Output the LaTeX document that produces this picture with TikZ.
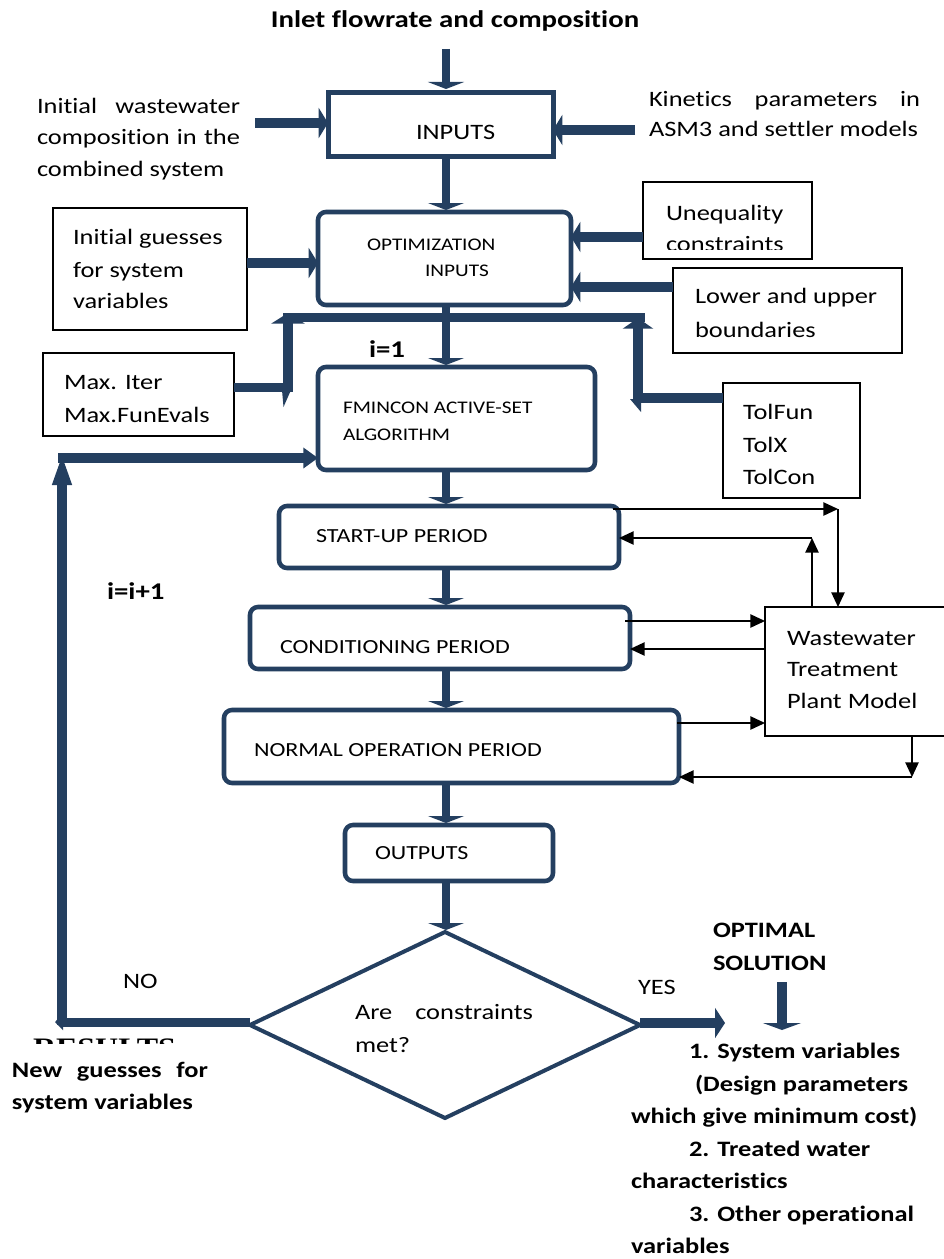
\documentclass[tikz,border=0pt]{standalone}
\usepackage{fontspec}
\setmainfont{Carlito}[FakeStretch=1.2,Ligatures=NoCommon]
\newfontfamily\serifres{Liberation Serif}[FakeStretch=1.2]
\usetikzlibrary{arrows.meta,shapes.geometric}
\newdimen\px
\px=0.75pt
\definecolor{navy}{RGB}{36,63,96}
\newcommand\fsTitle{\fontsize{18pt}{22pt}\selectfont\bfseries}
\newcommand\fsBody{\fontsize{16.5pt}{20pt}\selectfont}
\newcommand\fsLab{\fontsize{15pt}{18pt}\selectfont}
\newcommand\fsSmall{\fontsize{13.3pt}{16pt}\selectfont}
\newcommand\fsBold{\fontsize{16.5pt}{20pt}\selectfont\bfseries}
\newcommand\fsIdx{\fontsize{18pt}{22pt}\selectfont\bfseries}
\newcommand\fsRes{\serifres\fontsize{20pt}{24pt}\selectfont\bfseries}
\begin{document}
\begin{tikzpicture}[x=0.75pt,y=-0.75pt,
  bluebox/.style={draw=navy,line width=3.4pt,rounded corners=6pt,inner sep=0pt,outer sep=0pt},
  sharpbox/.style={draw=navy,line width=3.75pt,inner sep=0pt,outer sep=0pt},
  plainbox/.style={draw=black,line width=1pt,inner sep=0pt,outer sep=0pt},
  decision/.style={diamond,draw=navy,line width=3pt,inner sep=0pt,outer sep=0pt},
  lab/.style={anchor=base west,inner sep=0pt,outer sep=0pt},
  flow/.style={draw=navy,line width=6pt,shorten >=1.5pt,-{Triangle[width=27pt,length=5.25pt]}},
  fat/.style={draw=navy,line width=7.5pt,-{Triangle[width=22.5pt,length=7pt]}},
  fatline/.style={draw=navy,line width=7pt},
  thinarr/.style={draw=black,line width=1.1pt,-{Triangle[width=10pt,length=11pt]}}
]
\useasboundingbox (0,0) rectangle (944,1259);
\fill[white] (0,0) rectangle (944,1259);
\clip (0,0) rectangle (944,1259);

% ---------- boxes ----------
\node[sharpbox,minimum width=168.75pt,minimum height=48pt] (inputs) at (440.5,125) {};
\node[bluebox,minimum width=189.75pt,minimum height=69.75pt] (opt) at (444.5,258.5) {};
\node[bluebox,minimum width=207.75pt,minimum height=77.25pt] (fmin) at (456.5,418.5) {};
\node[bluebox,minimum width=255pt,minimum height=46.5pt] (startup) at (449,537) {};
\node[bluebox,minimum width=285pt,minimum height=46.5pt] (cond) at (440,638) {};
\node[bluebox,minimum width=341.25pt,minimum height=54.75pt] (normal) at (451.5,746.5) {};
\node[bluebox,minimum width=156pt,minimum height=42pt] (outputs) at (449,853) {};
\node[decision,minimum width=292.5pt,minimum height=139.5pt] (dia) at (445,1025) {};

\node[plainbox,minimum width=145.5pt,minimum height=91.5pt] (initg) at (150,269) {};
\node[plainbox,minimum width=126.75pt,minimum height=57.75pt] (uneq) at (727.5,220.5) {};
\node[plainbox,minimum width=171.75pt,minimum height=63.75pt] (lower) at (787.5,310.5) {};
\node[plainbox,minimum width=143.25pt,minimum height=62.25pt] (maxit) at (138.5,394.5) {};
\node[plainbox,minimum width=102.75pt,minimum height=86.25pt] (tolf) at (791.5,440.5) {};
\node[plainbox,minimum width=138.75pt,minimum height=96.75pt] (wwtp) at (857.5,671.5) {};

% ---------- main flow ----------
\coordinate (spine) at (446,0);
\coordinate (tin) at (446,49);
\draw[flow,shorten >=3pt] (tin) -- (tin |- inputs.north);
\draw[flow] (spine |- inputs.south) -- (spine |- opt.north);
\draw[flow] (spine |- fmin.south) -- (spine |- startup.north);
\draw[flow] (spine |- startup.south) -- (spine |- cond.north);
\draw[flow] (spine |- cond.south) -- (spine |- normal.north);
\draw[flow] (spine |- normal.south) -- (spine |- outputs.north);
\draw[flow] (spine |- outputs.south) -- (spine |- dia.north);

% ---------- side inputs ----------
\coordinate (tiw) at (255,123);
\draw[fat] (tiw) -- (tiw -| inputs.west);
\coordinate (tkin) at (635,130);
\draw[fat] (tkin) -- (tkin -| inputs.east);
\draw[fat] ([yshift=4.5pt]initg.east) coordinate (ig) -- (ig -| opt.west);
\draw[fat] ([yshift=-12.375pt]uneq.west) coordinate (uq) -- (uq -| opt.east);
\draw[fat] ([yshift=17.625pt]lower.west) coordinate (lw) -- (lw -| opt.east);

% ---------- bar and options ----------
\coordinate (barL) at (283,317.5);
\coordinate (barR) at (645,317.5);
\draw[fatline,line width=6.75pt] (barL) -- (barR);
\draw[flow] (spine |- opt.south) -- (spine |- fmin.north);

\coordinate (mxj) at (293,387.5);
\draw[fatline,line width=6.75pt] ([yshift=5.25pt]maxit.east) -- (mxj);
\coordinate (mxv) at (288,392);
\coordinate (mxt) at (288,313);
\draw[navy,line width=7.5pt,-{Triangle[width=25pt,length=8pt]}] (mxv) -- (mxt);
\fill[navy] (282,390) -- (291,390) -- (283.5,407) -- cycle;

\coordinate (tfj) at (633,398);
\draw[fatline,line width=7.5pt] ([yshift=31.875pt]tolf.west) -- (tfj);
\coordinate (tfv) at (638,403);
\coordinate (tft) at (638,318);
\draw[navy,line width=7.5pt,-{Triangle[width=22.5pt,length=8pt]}] (tfv) -- (tft);
\fill[navy] (630,399) -- (641,399) -- (641,412) -- cycle;

% ---------- loop back ----------
\coordinate (lpB) at (62,1025);
\coordinate (lpT) at (62,453);
\coordinate (lpH) at (58,458);
\draw[navy,line width=7.5pt,-{Triangle[width=13pt,length=24pt]}] (lpB) -- (lpT);
\draw[navy,line width=7.5pt,-{Triangle[width=15pt,length=11pt]}] (lpH) -- (lpH -| fmin.west);
\coordinate (noE) at (55,1022);
\draw[navy,line width=6.75pt,-{Triangle[width=12pt,length=6pt]}] ([yshift=2.25pt]dia.west) -- (noE);
\coordinate (yesE) at (725,1023);
\draw[navy,line width=7.5pt,-{Triangle[width=22.5pt,length=7.5pt]}] ([yshift=1.5pt]dia.east) -- (yesE);
\coordinate (opA) at (782,982);
\coordinate (opB) at (782,1030);
\draw[navy,line width=7.5pt,-{Triangle[width=28.5pt,length=5.25pt]}] (opA) -- (opB);

% ---------- plant model links ----------
\coordinate (su1) at (613,509);
\coordinate (k1) at (838,509);
\draw[thinarr] (su1) -- (k1);
\draw[thinarr] (k1) -- (k1 |- wwtp.north);
\coordinate (k2) at (812,538);
\draw[thinarr] (k2 |- wwtp.north) -- (k2);
\draw[thinarr] (k2) -- (k2 -| startup.east);
\coordinate (c1) at (625,621);
\draw[thinarr] (c1) -- (c1 -| wwtp.west);
\draw[thinarr] ([yshift=16.875pt]wwtp.west) coordinate (w2) -- (w2 -| cond.east);
\coordinate (n1) at (677,723);
\draw[thinarr] (n1) -- (n1 -| wwtp.west);
\coordinate (k3) at (912,777);
\draw[thinarr] (k3 |- wwtp.south) -- (k3);
\draw[thinarr] (k3) -- (k3 -| normal.east);

% ---------- texts ----------
\node[lab,font=\fsTitle,anchor=base] (title) at (455,28) {Inlet flowrate and composition};
\node[lab,font=\fsBody] (tInputs) at (416,140) {INPUTS};
\node[lab,font=\fsBody] (iw1) at (37,114) {\makebox[203\px][s]{Initial wastewater}};
\node[lab,font=\fsBody] (iw2) at (37,145) {\makebox[203\px][s]{composition in the}};
\node[lab,font=\fsBody] (iw3) at (37,176) {combined system};
\node[lab,font=\fsBody] (kp1) at (649,107) {\makebox[271\px][s]{Kinetics parameters in}};
\node[lab,font=\fsBody] (kp2) at (649,137) {ASM3 and settler models};
\node[lab,font=\fsSmall] (to1) at (367,250) {OPTIMIZATION};
\node[lab,font=\fsSmall] (to2) at (425,276) {INPUTS};
\node[lab,font=\fsBody] (ig1) at (73,244) {Initial guesses};
\node[lab,font=\fsBody] (ig2) at (73,277) {for system};
\node[lab,font=\fsBody] (ig3) at (73,308) {variables};
\node[lab,font=\fsBody] (uq1) at (666,220) {Unequality};
\begin{scope}
\clip (645,225) rectangle (810,249);
\node[lab,font=\fsBody] (uq2) at (666,251) {constraints};
\end{scope}
\node[lab,font=\fsBody] (lb1) at (695,303) {Lower and upper};
\node[lab,font=\fsBody] (lb2) at (695,337) {boundaries};
\node[lab,font=\fsIdx] (i1) at (369,357) {i=1};
\node[lab,font=\fsBody] (mx1) at (64,389) {Max. Iter};
\node[lab,font=\fsBody] (mx2) at (64,422) {Max.FunEvals};
\node[lab,font=\fsSmall] (fm1) at (343,413) {FMINCON ACTIVE-SET};
\node[lab,font=\fsSmall] (fm2) at (343,440) {ALGORITHM};
\node[lab,font=\fsBody] (tf1) at (743,419) {TolFun};
\node[lab,font=\fsBody] (tf2) at (743,452) {TolX};
\node[lab,font=\fsBody] (tf3) at (743,484) {TolCon};
\node[lab,font=\fsLab] (tsu) at (316,542) {START-UP PERIOD};
\node[lab,font=\fsIdx] (ii) at (107,599) {i=i+1};
\node[lab,font=\fsLab] (tcd) at (280,653) {CONDITIONING PERIOD};
\node[lab,font=\fsBody] (ww1) at (787,645) {Wastewater};
\node[lab,font=\fsBody] (ww2) at (787,676) {Treatment};
\node[lab,font=\fsBody] (ww3) at (787,708) {Plant Model};
\node[lab,font=\fsLab] (tno) at (254,756) {NORMAL OPERATION PERIOD};
\node[lab,font=\fsLab] (tout) at (375,859) {OUTPUTS};
\node[lab,font=\fsBold] (os1) at (713,937) {OPTIMAL};
\node[lab,font=\fsBold] (os2) at (713,970) {SOLUTION};
\node[lab,font=\fsBody] (tNO) at (123,988) {NO};
\node[lab,font=\fsBody] (tYES) at (638,994) {YES};
\node[lab,font=\fsBody] (ac1) at (355,1019) {\makebox[178\px][s]{Are constraints}};
\node[lab,font=\fsBody] (ac2) at (355,1052) {met?};
\begin{scope}
\clip (20,1035) rectangle (200,1043);
\node[lab,font=\fsRes] (res) at (33,1056) {RESULTS};
\end{scope}
\node[lab,font=\fsBold] (ng1) at (12,1077) {\makebox[196\px][s]{New guesses for}};
\node[lab,font=\fsBold] (ng2) at (12,1109) {system variables};
\node[lab,font=\fsBold] (r1) at (689,1058) {1. System variables};
\node[lab,font=\fsBold] (r2) at (695,1091) {(Design parameters};
\node[lab,font=\fsBold] (r3) at (631,1123) {which give minimum cost)};
\node[lab,font=\fsBold] (r4) at (689,1156) {2. Treated water};
\node[lab,font=\fsBold] (r5) at (631,1188) {characteristics};
\node[lab,font=\fsBold] (r6) at (689,1221) {3. Other operational};
\node[lab,font=\fsBold] (r7) at (631,1253) {variables};
\end{tikzpicture}
\end{document}
